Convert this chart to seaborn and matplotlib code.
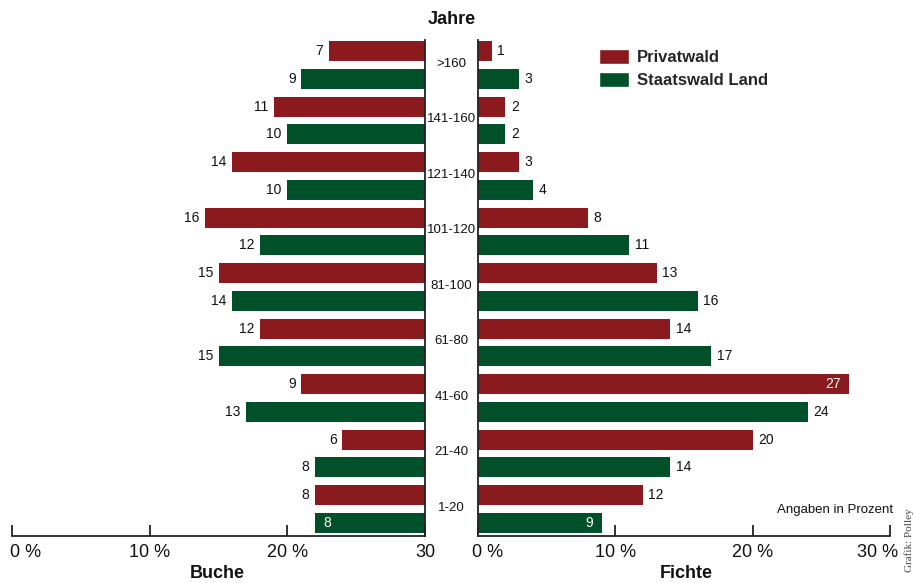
import pandas as pd
import matplotlib.pyplot as plt
import matplotlib.transforms as mtransforms
from matplotlib.patches import Patch
import seaborn as sns

# data (percent)
age_classes = ['>160', '141-160', '121-140', '101-120', '81-100', '61-80', '41-60', '21-40', '1-20']
buche_privat = [7, 11, 14, 16, 15, 12, 9, 6, 8]
buche_staat = [9, 10, 10, 12, 14, 15, 13, 8, 8]
fichte_privat = [1, 2, 3, 8, 13, 14, 27, 20, 12]
fichte_staat = [3, 2, 4, 11, 16, 17, 24, 14, 9]
owners = ['Privatwald', 'Staatswald Land']
left_ticks = [30, 20, 10, 0]
left_ticklabels = ['0 %', '10 %', '20 %', '30']
right_ticks = [0, 10, 20, 30]
right_ticklabels = ['0 %', '10 %', '20 %', '30 %']

red = '#8a1a1d'
green = '#00502a'
palette = {owners[0]: red, owners[1]: green}

sns.set_style('white')
plt.rcParams['font.family'] = ['Liberation Sans', 'DejaVu Sans']

def make_df(privat, staat):
    rows = []
    for i, a in enumerate(age_classes):
        rows.append({'row': a + ' P', 'owner': owners[0], 'value': privat[i]})
        rows.append({'row': a + ' S', 'owner': owners[1], 'value': staat[i]})
    return pd.DataFrame(rows)

df_buche = make_df(buche_privat, buche_staat)
df_fichte = make_df(fichte_privat, fichte_staat)

fig = plt.figure(figsize=(9.15, 5.83), dpi=100)
ax1 = fig.add_axes([12/915, 47/583, 413/915, 496/583])
ax2 = fig.add_axes([478/915, 47/583, 412/915, 496/583])

for ax, d in [(ax1, df_buche), (ax2, df_fichte)]:
    sns.barplot(data=d, y='row', x='value', hue='owner', palette=palette,
                dodge=False, width=0.72, legend=False, ax=ax, saturation=1,
                linewidth=0, edgecolor='none')
    ax.set_ylim(17.47, -0.4)
    ax.set_ylabel('')
    ax.set_xlabel('')
    ax.set_yticks([])
    ax.tick_params(axis='x', direction='in', length=8, width=1.3, color='#222222',
                   labelsize=13, pad=6, bottom=True, labelcolor='#111111')
    for s in ax.spines.values():
        s.set_color('#222222')
        s.set_linewidth(1.3)
    ax.spines['top'].set_visible(False)

ax1.set_xlim(30, 0)
ax1.set_xticks(left_ticks)
ax1.set_xticklabels(left_ticklabels)
ax1.spines['left'].set_visible(False)
ax2.set_xlim(0, 30)
ax2.set_xticks(right_ticks)
ax2.set_xticklabels(right_ticklabels)
ax2.spines['right'].set_visible(False)

# end labels nudged inside the figure like in the print
lab = ax1.get_xticklabels()[0]
lab.set_horizontalalignment('left')
lab.set_transform(lab.get_transform() + mtransforms.ScaledTranslation(-2/100, 0, fig.dpi_scale_trans))
lab = ax2.get_xticklabels()[0]
lab.set_transform(lab.get_transform() + mtransforms.ScaledTranslation(10/100, 0, fig.dpi_scale_trans))
lab = ax2.get_xticklabels()[-1]
lab.set_horizontalalignment('right')
lab.set_transform(lab.get_transform() + mtransforms.ScaledTranslation(8/100, 0, fig.dpi_scale_trans))

# value labels
def label_bars(ax, values, pos0, special, sign):
    for i, v in enumerate(values):
        y = 2 * i + pos0
        mode = special.get(i)
        if mode == 'end':
            ax.annotate(str(v), (v, y), xytext=(-6 * sign, 0), textcoords='offset points',
                        ha='right' if sign > 0 else 'left', va='center', fontsize=10, color='white')
        elif mode == 'start':
            ax.annotate(str(v), (v, y), xytext=(-6 * sign, 0), textcoords='offset points',
                        ha='left' if sign < 0 else 'right', va='center', fontsize=10, color='white')
        else:
            ax.annotate(str(v), (v, y), xytext=(4 * sign, 0), textcoords='offset points',
                        ha='left' if sign > 0 else 'right', va='center', fontsize=10,
                        color='#111111')

label_bars(ax1, buche_privat, 0, {}, -1)
label_bars(ax1, buche_staat, 1, {8: 'start'}, -1)
label_bars(ax2, fichte_privat, 0, {6: 'end'}, 1)
label_bars(ax2, fichte_staat, 1, {8: 'end'}, 1)

# age class labels in the middle
trans = mtransforms.blended_transform_factory(fig.transFigure, ax1.transData)
for i, a in enumerate(age_classes):
    fig.text(451.5/915, 2 * i + 0.45, a, transform=trans, ha='center', va='center',
             fontsize=9.5, color='#111111')

fig.text(452/915, 1 - 20/583, 'Jahre', ha='center', va='center', fontsize=13,
         fontweight='bold', color='#111111')
fig.text(217/915, 1 - 573/583, 'Buche', ha='center', va='center', fontsize=13,
         fontweight='bold', color='#111111')
fig.text(686/915, 1 - 573/583, 'Fichte', ha='center', va='center', fontsize=13,
         fontweight='bold', color='#111111')
fig.text(893/915, 1 - 510/583, 'Angaben in Prozent', ha='right', va='center',
         fontsize=9.5, color='#111111')
fig.text(909/915, 1 - 540/583, 'Grafik: Polley', ha='center', va='center', rotation=90,
         fontsize=8, color='#444444', family=['Liberation Serif', 'DejaVu Serif'])

handles = [Patch(facecolor=red, label=owners[0]), Patch(facecolor=green, label=owners[1])]
fig.legend(handles=handles, loc='upper left', bbox_to_anchor=(592/915, 1 - 42/583),
           frameon=False, prop={'weight': 'bold', 'size': 12}, handlelength=1.8,
           handleheight=1.0, handletextpad=0.5, labelspacing=0.45, borderaxespad=0)

fig.savefig('out.png', dpi=100)
